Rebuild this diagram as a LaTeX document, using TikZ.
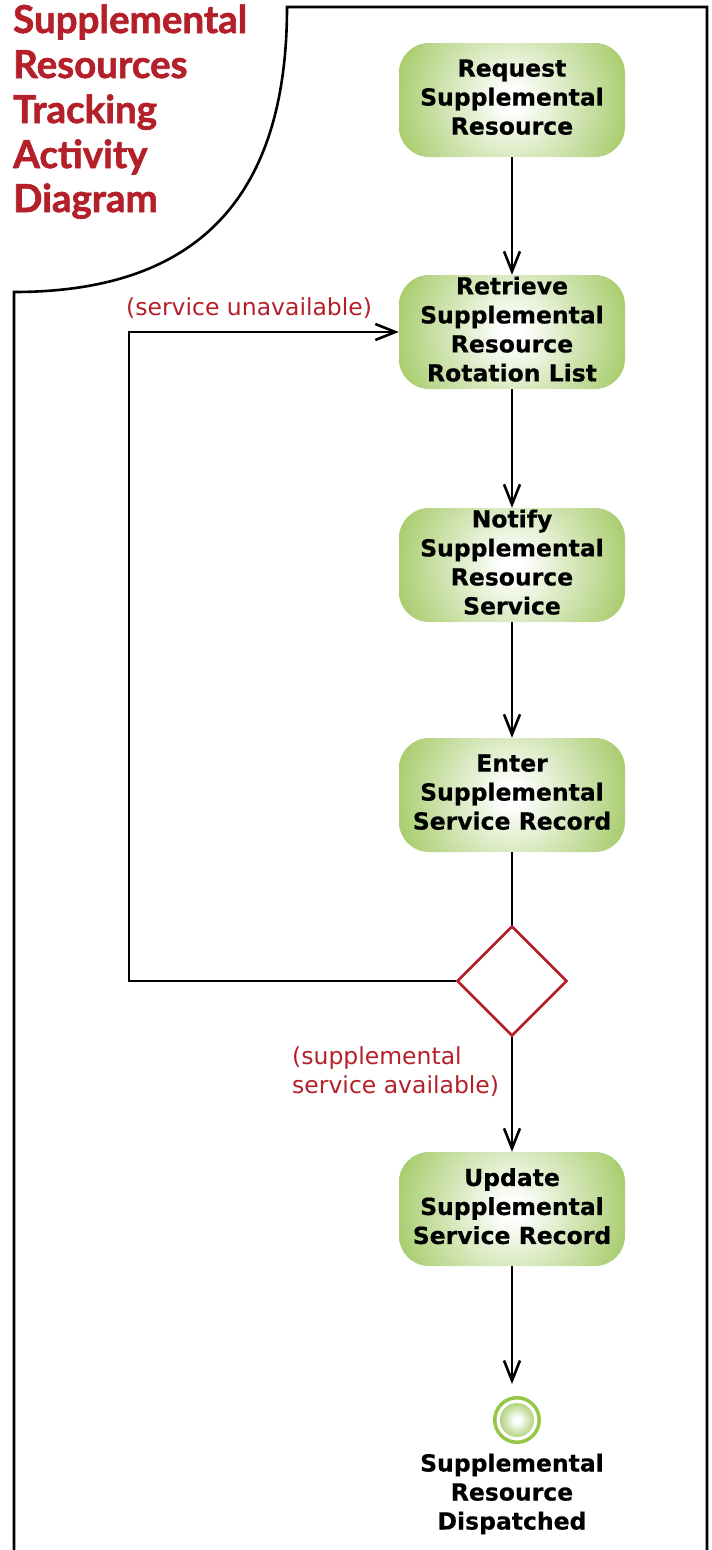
\documentclass[tikz,border=0pt]{standalone}
\usepackage{fontspec}
\setmainfont{DejaVu Sans}[BoldFeatures={FakeBold=0.5}]
\newfontfamily\titlefont{Lato}[BoldFeatures={FakeBold=1.6}]
\usetikzlibrary{arrows.meta,shapes.geometric}
\definecolor{actgreen}{RGB}{132,184,50}
\definecolor{ringgreen}{RGB}{148,198,72}
\definecolor{dred}{RGB}{180,32,42}
\pgfdeclareradialshading{actshade}{\pgfpoint{0bp}{0bp}}{color(0bp)=(white); color(2bp)=(white); color(32bp)=(actgreen); color(50bp)=(actgreen)}
\pgfdeclareradialshading{finshade}{\pgfpoint{0bp}{0bp}}{color(0bp)=(white); color(4bp)=(white); color(38bp)=(actgreen); color(50bp)=(actgreen)}
\begin{document}
\begin{tikzpicture}[x=1pt,y=-1pt,
  act/.style={rectangle, rounded corners=30pt, minimum width=226pt, minimum height=114pt,
    inner sep=0pt, align=center, text depth=6pt, font=\bfseries\fontsize{23.5}{29}\selectfont,
    path picture={\shade[shading=actshade] (path picture bounding box.center) circle (127pt);}},
  conn/.style={line width=2.6pt},
  flow/.style={line width=2.6pt, -{Straight Barb[length=20pt,width=16pt,line width=2.6pt]}},
  lbl/.style={text=dred, inner sep=0pt, font=\fontsize{23.5}{29}\selectfont},
  ttl/.style={text=dred, inner sep=0pt, anchor=base west, font=\titlefont\bfseries\fontsize{38.5}{45}\selectfont},
  decis/.style={diamond, draw=dred, line width=2.6pt, fill=white, minimum width=110pt, minimum height=110pt, inner sep=0pt}
]
\useasboundingbox (0,0) rectangle (712,1550);
% frame
\draw[line width=2.6pt] (14,1556) -- (14,292) .. controls (197,292) and (287,198) .. (287,7) -- (707,7) -- (707,1556);
% title
\node[ttl] (t1) at (13,33) {Supplemental};
\node[ttl] (t2) at (13,78) {Resources};
\node[ttl] (t3) at (13,123) {Tracking};
\node[ttl] (t4) at (13,168) {Activity};
\node[ttl] (t5) at (13,212) {Diagram};
% activities
\node[act] (a1) at (512,100) {Request\\Supplemental\\Resource};
\node[act] (a2) at (512,332) {Retrieve\\Supplemental\\Resource\\Rotation List};
\node[act] (a3) at (512,565) {Notify\\Supplemental\\Resource\\Service};
\node[act] (a4) at (512,795) {Enter\\Supplemental\\Service Record};
\node[decis] (dec) at (512,981) {};
\node[act] (a5) at (512,1209) {Update\\Supplemental\\Service Record};
% final node
\node[circle, draw=ringgreen, line width=3.5pt, minimum size=44.5pt, inner sep=0pt] (fin) at (517,1420) {};
\node[circle, shading=finshade, minimum size=34pt, inner sep=0pt] (finin) at (517,1420) {};
\node[align=center, inner sep=0pt, font=\bfseries\fontsize{23.5}{29}\selectfont] (flabel) at (512,1494) {Supplemental\\Resource\\Dispatched};
% connectors
\coordinate (loopc) at (129,981);
\coordinate (fend) at (512,1384);
\draw[flow] (a1) -- (a2);
\draw[flow] (a2) -- (a3);
\draw[flow] (a3) -- (a4);
\draw[conn] (a4) -- (dec);
\draw[flow] (dec.west) -- (loopc) |- (a2.west);
\draw[flow] (dec.south) -- (a5.north);
\draw[flow] (a5.south) -- (fend);
% guards
\node[lbl, anchor=west] (lu) at (126,308) {(service unavailable)};
\node[lbl, anchor=north west, align=left] (la) at (292,1046) {(supplemental\\service available)};
\end{tikzpicture}
\end{document}
